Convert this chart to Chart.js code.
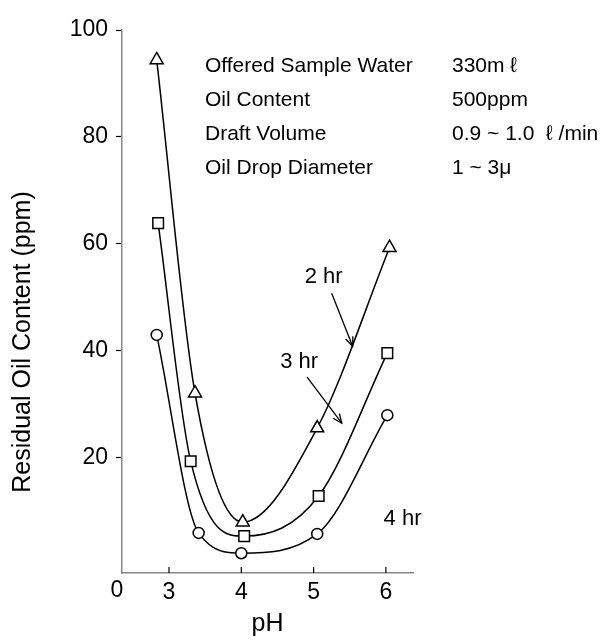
<!DOCTYPE html>
<html>
<head>
<meta charset="utf-8">
<script src="https://cdn.jsdelivr.net/npm/chart.js@4.4.0/dist/chart.umd.min.js"></script>
<style>
body{margin:0;background:#fff}
</style>
</head>
<body>
<canvas id="ChartPH" width="600" height="642"></canvas>
<script>
// data
const pH_2hr=[2.83,3.36,4.02,5.05,6.05]
const oil_2hr=[94.4,32.1,8.0,25.6,59.3]
const pH_3hr=[2.85,3.30,4.04,5.07,6.02]
const oil_3hr=[63.9,19.4,5.4,12.9,39.6]
const pH_4hr=[2.83,3.41,4.0,5.05,6.02]
const oil_4hr=[43.0,6.0,2.2,5.8,28.0]

const X_TICKS=[3,4,5,6]
const Y_TICKS=[20,40,60,80,100]

const CONDITIONS=["Offered Sample Water","Oil Content","Draft Volume","Oil Drop Diameter"]
const CONDITION_VALUES=["330m \u2113","500ppm","0.9 ~ 1.0  \u2113 /min","1 ~ 3\u03bc"]
const CURVE_LABELS=["2 hr","3 hr","4 hr"]

const FONT='"Liberation Sans", Arial, sans-serif'

function MakeSet(X,Y,style,r){
return {
 data:X.map((x,i)=>({x:x,y:Y[i]})),
 borderColor:'#000',borderWidth:1.5,
 pointStyle:style,pointRadius:r,pointHoverRadius:r,
 pointBackgroundColor:'#fff',pointBorderColor:'#000',pointBorderWidth:1.5,
 cubicInterpolationMode:'monotone',clip:false
}}

function Arrow(ctx,x1,y1,x2,y2){
 ctx.beginPath();ctx.moveTo(x1,y1);ctx.lineTo(x2,y2);ctx.stroke()
 const a=Math.atan2(y2-y1,x2-x1),L=10
 ctx.beginPath()
 ctx.moveTo(x2-L*Math.cos(a-0.4),y2-L*Math.sin(a-0.4))
 ctx.lineTo(x2,y2)
 ctx.lineTo(x2-L*Math.cos(a+0.4),y2-L*Math.sin(a+0.4))
 ctx.stroke()
}

const extrasPlugin={
 id:'extras',
 afterDraw(chart){
  const ctx=chart.ctx,X=chart.scales.x,Y=chart.scales.y,A=chart.chartArea
  ctx.save()
  // x ticks point inward
  ctx.strokeStyle='#000';ctx.lineWidth=1.2
  X_TICKS.forEach(v=>{const p=X.getPixelForValue(v);ctx.beginPath();ctx.moveTo(p,A.bottom);ctx.lineTo(p,A.bottom-6);ctx.stroke()})
  ctx.fillStyle='#000'
  ctx.textAlign='center';ctx.textBaseline='middle'
  ctx.font='23px '+FONT
  ctx.fillText('0',A.left-5,591)
  // axis titles
  ctx.font='25px '+FONT
  ctx.fillText('pH',(A.left+A.right)/2,624)
  ctx.save();ctx.translate(23,342);ctx.rotate(-Math.PI/2)
  ctx.font='25px '+FONT
  ctx.fillText('Residual Oil Content (ppm)',0,0)
  ctx.restore()
  // test conditions
  ctx.textAlign='left'
  ctx.font='21px '+FONT
  CONDITIONS.forEach((t,i)=>{ctx.fillText(t,205,66+i*34);ctx.fillText(CONDITION_VALUES[i],452,66+i*34)})
  // curve labels and arrows
  ctx.textAlign='center'
  ctx.font='22px '+FONT
  const labelAt=[[5.14,53.8],[4.80,37.9],[6.23,8.6]]
  labelAt.forEach((p,i)=>ctx.fillText(CURVE_LABELS[i],X.getPixelForValue(p[0]),Y.getPixelForValue(p[1])))
  ctx.lineWidth=1.3
  Arrow(ctx,X.getPixelForValue(5.25),Y.getPixelForValue(50.8),X.getPixelForValue(5.54),Y.getPixelForValue(40.9))
  Arrow(ctx,X.getPixelForValue(4.91),Y.getPixelForValue(35.1),X.getPixelForValue(5.39),Y.getPixelForValue(26.5))
  ctx.restore()
 }
}

let ChartPH=new Chart(document.getElementById('ChartPH'),{
 type:'line',
 data:{datasets:[
  MakeSet(pH_4hr,oil_4hr,'circle',5.5),
  MakeSet(pH_3hr,oil_3hr,'rect',7.5),
  MakeSet(pH_2hr,oil_2hr,'triangle',7.5)
 ]},
 options:{
  responsive:false,animation:false,
  layout:{padding:{left:0,top:30,right:187,bottom:0}},
  plugins:{legend:{display:false},tooltip:{enabled:false},title:{display:false}},
  scales:{
   x:{type:'linear',min:2.35,max:6.375,
    afterFit(s){s.height=69},
    afterBuildTicks(s){s.ticks=X_TICKS.map(v=>({value:v}))},
    border:{display:true,color:'#888',width:1.5},
    grid:{drawOnChartArea:false,drawTicks:false},
    ticks:{color:'#000',font:{size:23,family:FONT},padding:6,maxRotation:0}
   },
   y:{type:'linear',min:-1.5,max:100,
    afterFit(s){s.width=122},
    afterBuildTicks(s){s.ticks=Y_TICKS.map(v=>({value:v}))},
    border:{display:true,color:'#888',width:1.5},
    grid:{drawOnChartArea:false,tickLength:6,tickColor:'#000',tickWidth:1.2},
    ticks:{color:'#000',font:{size:23,family:FONT},padding:8}
   }
  }
 },
 plugins:[extrasPlugin]
})
</script>
</body>
</html>
